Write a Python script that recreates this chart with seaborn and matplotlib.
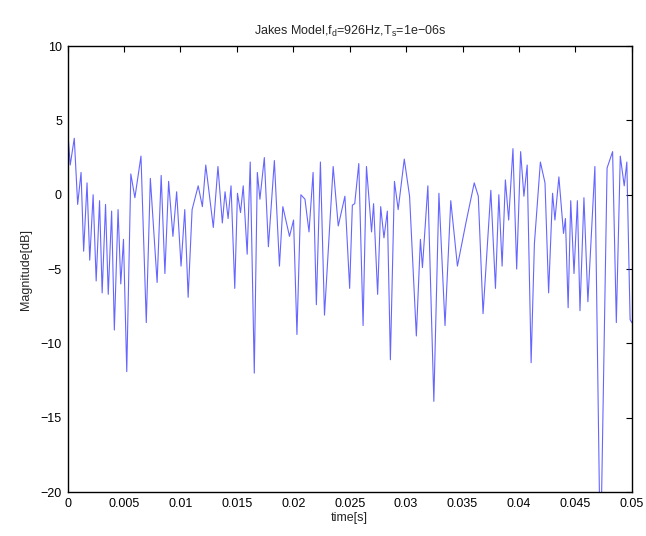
import matplotlib
matplotlib.use("Agg")
import matplotlib.pyplot as plt
import seaborn as sns
import pandas as pd

# Extrema of the fading envelope
time_s = [
    0.0, 0.00024, 0.0006, 0.0009, 0.0012, 0.00143, 0.00173, 0.00197, 0.00227, 0.00254,
    0.00284, 0.00307, 0.00337, 0.00361, 0.00391, 0.00415, 0.00448, 0.00472, 0.00496, 0.00525,
    0.00561, 0.00597, 0.00651, 0.00698, 0.00734, 0.00794, 0.0083, 0.00863, 0.00896, 0.00934,
    0.00967, 0.01006, 0.01039, 0.01069, 0.01104, 0.01158, 0.01195, 0.01225,
    0.01292, 0.01333, 0.01372, 0.01396, 0.01423, 0.01449, 0.01482, 0.01506, 0.01533, 0.01557,
    0.01592, 0.01619, 0.01655, 0.01682, 0.01705, 0.01744, 0.0178, 0.01833, 0.01878, 0.01908,
    0.01967, 0.02003, 0.02033, 0.02068, 0.02104, 0.0214, 0.02176, 0.02205, 0.02241, 0.02277,
    0.02354, 0.02399, 0.02458, 0.025,
    0.02524, 0.02545, 0.02581, 0.02619, 0.02649, 0.02694, 0.02712, 0.02748, 0.02775, 0.02804,
    0.02834, 0.02861, 0.02897, 0.0293, 0.02984, 0.03031, 0.03091, 0.03127, 0.03145, 0.03193,
    0.03246, 0.03291, 0.03345, 0.03396, 0.03455, 0.0353, 0.03604, 0.0364, 0.03682,
    0.03751, 0.03792, 0.03822, 0.03851, 0.0388, 0.03909, 0.03947, 0.0398, 0.04015, 0.04044,
    0.04073, 0.04108, 0.04137, 0.0419, 0.04231, 0.04263, 0.04298, 0.04319, 0.04354, 0.04395,
    0.04412, 0.04436, 0.04459, 0.04488, 0.04518, 0.04541, 0.04576, 0.04611, 0.04673, 0.04722,
    0.04781, 0.0483, 0.04863, 0.04898, 0.04933, 0.04956, 0.04985, 0.05,
]
magnitude_db = [
    4.5, 2.0, 3.8, -0.65, 1.5, -3.8, 0.8, -4.4, 0.0, -5.8,
    -0.4, -6.6, -0.65, -6.7, -1.1, -9.1, -1.0, -6.0, -3.0, -11.9,
    1.4, -0.2, 2.6, -8.6, 1.1, -5.9, 1.3, -5.3, 0.9, -2.8,
    0.2, -4.8, -1.0, -6.9, -1.0, 0.6, -0.8, 2.0,
    -2.2, 1.9, -1.9, 0.2, -1.6, 0.6, -6.3, 0.1, -1.2, 0.6,
    -4.0, 2.2, -12.0, 1.5, -0.3, 2.5, -3.5, 2.3, -4.8, -0.8,
    -2.8, -1.7, -9.4, 0.0, -0.3, -2.5, 1.5, -7.4, 2.2, -8.1,
    1.9, -2.1, -0.1, -6.3,
    -0.7, -0.6, 2.1, -8.8, 1.9, -2.5, -0.6, -6.7, -0.8, -2.9,
    -1.1, -11.1, 0.9, -1.0, 2.4, -0.1, -9.5, -3.0, -4.9, 0.6,
    -13.9, 0.1, -8.8, -0.4, -4.8, -1.9, 0.8, -0.1, -8.0,
    0.3, -6.3, 0.0, -4.8, 1.0, -1.7, 3.1, -5.0, 2.9, -0.1,
    2.0, -11.3, -3.3, 2.2, 0.8, -6.6, 0.1, -1.7, 1.2, -2.6,
    -1.6, -7.6, -0.4, -5.3, -0.4, -7.8, -0.2, -7.2, 1.9, -25.0,
    1.8, 2.9, -8.6, 2.6, 0.6, 2.2, -8.4, -8.6,
]

x_ticks = [0, 0.005, 0.01, 0.015, 0.02, 0.025, 0.03, 0.035, 0.04, 0.045, 0.05]
x_tick_labels = ["0", "0.005", "0.01", "0.015", "0.02", "0.025", "0.03", "0.035", "0.04", "0.045", "0.05"]
y_ticks = [-20, -15, -10, -5, 0, 5, 10]

df = pd.DataFrame({"time": time_s, "mag": magnitude_db})

sns.set_style("white")
plt.rcParams["font.family"] = ["Liberation Sans", "DejaVu Sans"]
plt.rcParams["mathtext.default"] = "regular"

fig = plt.figure(figsize=(6.46, 5.36), dpi=100)
ax = fig.add_axes([0.1045, 0.082, 0.8735, 0.832])

sns.lineplot(data=df, x="time", y="mag", ax=ax, color=(0.2, 0.2, 1.0),
             linewidth=0.8, alpha=0.75, estimator=None, sort=False)

ax.set_xlim(0, 0.05)
ax.set_ylim(-20, 10)
ax.set_xticks(x_ticks)
ax.set_xticklabels(x_tick_labels)
ax.set_yticks(y_ticks)
ax.tick_params(direction="in", top=True, right=True, length=4, width=0.8,
               labelsize=9, colors="black", pad=4)
for s in ax.spines.values():
    s.set_visible(True)
    s.set_color("black")
    s.set_linewidth(1.0)

ax.set_xlabel("time[s]", fontsize=9, labelpad=2)
ax.set_ylabel("Magnitude[dB]", fontsize=9, labelpad=6)
ax.set_title("Jakes Model,f$_d$=926Hz,T$_s$=1e\u221206s", fontsize=9, pad=8)

fig.savefig("out.png", dpi=100, facecolor="white")
